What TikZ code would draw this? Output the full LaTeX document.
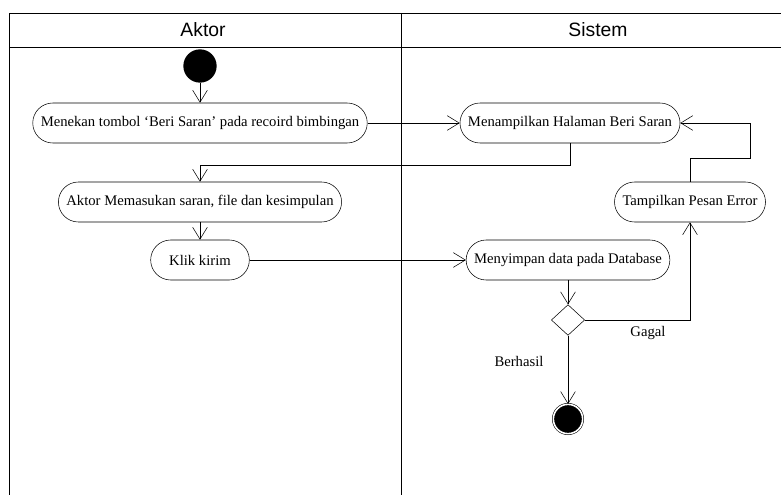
\documentclass[tikz,border=0pt]{standalone}
\usepackage{fontspec}
\setmainfont{Liberation Serif}
\newfontfamily\lanefont{Liberation Sans}
\usetikzlibrary{arrows.meta,shapes.geometric}

\begin{document}
\begin{tikzpicture}[x=0.75pt,y=-0.75pt]
    \tikzstyle{act}=[draw,rounded corners=15pt,minimum height=30pt,inner xsep=6pt,font=\fontsize{11}{13}\selectfont]
    \tikzstyle{flow}=[-{Straight Barb[length=9pt,width=11pt]}]
    \tikzstyle{lane}=[font=\lanefont\fontsize{14.5}{16}\selectfont]
    \tikzstyle{lbl}=[font=\fontsize{11}{13}\selectfont]
    \useasboundingbox (0,0) rectangle (781,495);
    % swimlanes
    \draw (781,13) -- (9,13) -- (9,495);
    \draw (9,47) -- (781,47);
    \draw (401,13) -- (401,495);
    \node[lane] (aktor) at (203,30) {Aktor};
    \node[lane] (sistem) at (598,30) {Sistem};
    % activities
    \node[circle,fill=black,minimum size=25pt,inner sep=0pt] (start) at (200,66) {};
    \node[act] (tombol) at (200,123) {Menekan tombol `Beri Saran' pada recoird bimbingan};
    \node[act] (halaman) at (570,123) {Menampilkan Halaman Beri Saran};
    \node[act] (masukan) at (200,202) {Aktor Memasukan saran, file dan kesimpulan};
    \node[act,minimum width=74pt] (kirim) at (200,260) {Klik kirim};
    \node[act] (simpan) at (568,260) {Menyimpan data pada Database};
    \node[act] (error) at (690,202) {Tampilkan Pesan Error};
    \node[diamond,draw,minimum width=25pt,minimum height=23pt,inner sep=0pt] (cek) at (568,320) {};
    \node[circle,draw,fill=black,double=white,double distance=1.2pt,minimum size=22pt,inner sep=0pt] (stop) at (568,419) {};
    \coordinate (k1) at (200,165);
    \coordinate (k2) at (750,158);
    % flows
    \draw[flow] (start) -- (tombol);
    \draw[flow] (tombol) -- (halaman);
    \draw[flow] (halaman.south) |- (k1) -- (masukan.north);
    \draw[flow] (masukan) -- (kirim);
    \draw[flow] (kirim) -- (simpan);
    \draw[flow] (simpan) -- (cek);
    \draw[flow] (cek.east) -| (error.south);
    \draw[flow] (error.north) |- (k2) |- (halaman.east);
    \draw[flow] (cek) -- (stop);
    \node[lbl] (gagal) at (648,333) {Gagal};
    \node[lbl] (berhasil) at (519,361) {Berhasil};
\end{tikzpicture}
\end{document}
